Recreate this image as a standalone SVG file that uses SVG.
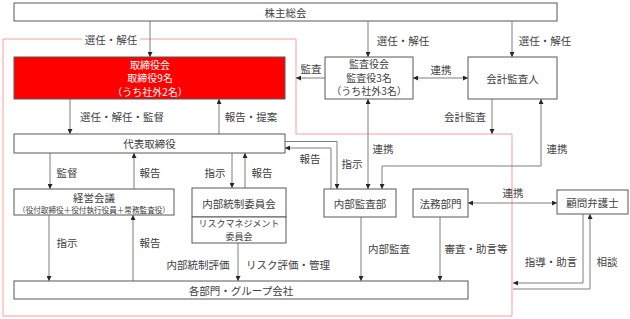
<svg xmlns="http://www.w3.org/2000/svg" width="630" height="319" viewBox="0 0 630 319">
<style>
text{font-family:"Noto Sans CJK JP","Liberation Sans",sans-serif;font-size:10.5px;fill:#404040;text-anchor:middle;dominant-baseline:central}
.box{fill:#fff;stroke:#595959;stroke-width:1}
.ln{fill:none;stroke:#7f7f7f;stroke-width:1}
.wt{fill:#fff;font-size:10px}
.ml{font-size:10px}
.sm{font-size:7.6px}
.rk{font-size:9px}
</style>
<defs>
<marker id="ah" viewBox="0 0 6 6" refX="6" refY="3" markerWidth="5" markerHeight="5" markerUnits="userSpaceOnUse" orient="auto-start-reverse">
<path d="M0,0 L6,3 L0,6 z" fill="#262626"/>
</marker>
</defs>
<g id="boundary">
<path d="M296,39 L296,134 L512,134 L512,316 L3,316 L3,39 Z" fill="none" stroke="#ff9b9b" stroke-width="1"/>
<rect x="82" y="32" width="58" height="14" fill="#fff"/>
<text x="111" y="39">選任・解任</text>
</g>
<g id="connectors">
<path class="ln" d="M150,21 V57" marker-end="url(#ah)"/>
<path class="ln" d="M368,21 V57" marker-end="url(#ah)"/>
<path class="ln" d="M512,21 V57" marker-end="url(#ah)"/>
<path class="ln" d="M413,78 H468" marker-start="url(#ah)" marker-end="url(#ah)"/>
<path class="ln" d="M325,78 H296" marker-end="url(#ah)"/>
<path class="ln" d="M70,99 V134" marker-end="url(#ah)"/>
<path class="ln" d="M219,134 V99" marker-end="url(#ah)"/>
<path class="ln" d="M368,99 V189" marker-start="url(#ah)" marker-end="url(#ah)"/>
<path class="ln" d="M492,99 V134" marker-end="url(#ah)"/>
<path class="ln" d="M541,99 V166 H382 V189" marker-start="url(#ah)" marker-end="url(#ah)"/>
<path class="ln" d="M285,141.5 H337 V189" marker-end="url(#ah)"/>
<path class="ln" d="M331,189 V148 H285" marker-end="url(#ah)"/>
<path class="ln" d="M50,153 V189" marker-end="url(#ah)"/>
<path class="ln" d="M134,189 V153" marker-end="url(#ah)"/>
<path class="ln" d="M232,153 V188" marker-end="url(#ah)"/>
<path class="ln" d="M245,188 V153" marker-end="url(#ah)"/>
<path class="ln" d="M49,215 V281" marker-end="url(#ah)"/>
<path class="ln" d="M133,281 V215" marker-end="url(#ah)"/>
<path class="ln" d="M238,243 V281" marker-end="url(#ah)"/>
<path class="ln" d="M361,217 V281" marker-end="url(#ah)"/>
<path class="ln" d="M440,217 V281" marker-end="url(#ah)"/>
<path class="ln" d="M468,203 H557" marker-start="url(#ah)" marker-end="url(#ah)"/>
<path class="ln" d="M583,214 V283 H513" marker-end="url(#ah)"/>
<path class="ln" d="M513,289 H590 V214" marker-end="url(#ah)"/>
</g>
<g id="labels">
<text x="403" y="40">選任・解任</text>
<text x="545" y="40">選任・解任</text>
<text x="311" y="68">監査</text>
<text x="441" y="69">連携</text>
<text x="122" y="116">選任・解任・監督</text>
<text x="251" y="116">報告・提案</text>
<text x="465" y="116">会計監査</text>
<text x="383" y="148">連携</text>
<text x="557" y="148">連携</text>
<text x="310" y="158">報告</text>
<text x="352" y="163">指示</text>
<text x="67" y="172">監督</text>
<text x="150" y="172">報告</text>
<text x="215" y="172">指示</text>
<text x="262" y="172">報告</text>
<text x="513" y="192">連携</text>
<text x="67" y="242">指示</text>
<text x="150" y="242">報告</text>
<text x="198" y="264">内部統制評価</text>
<text x="288" y="264">リスク評価・管理</text>
<text x="389" y="248">内部監査</text>
<text x="476" y="248">審査・助言等</text>
<text x="551" y="261">指導・助言</text>
<text x="607" y="261">相談</text>
</g>
<g id="shareholders">
<rect class="box" x="14" y="3" width="543" height="18"/>
<text x="285.5" y="12">株主総会</text>
</g>
<g id="board">
<rect x="14" y="57" width="271" height="42" fill="#ff0000" stroke="#595959"/>
<text x="150" y="64" class="wt">取締役会</text>
<text x="150" y="77.5" class="wt">取締役9名</text>
<text x="150" y="91" class="wt">（うち社外2名）</text>
</g>
<g id="auditboard">
<rect class="box" x="325" y="57" width="88" height="42"/>
<text x="369" y="63.5" class="ml">監査役会</text>
<text x="369" y="77" class="ml">監査役3名</text>
<text x="369" y="90.5" class="ml">（うち社外3名）</text>
</g>
<g id="accountant">
<rect class="box" x="468" y="57" width="89" height="42"/>
<text x="512.5" y="78">会計監査人</text>
</g>
<g id="president">
<rect class="box" x="14" y="134" width="271" height="19"/>
<text x="149.5" y="143">代表取締役</text>
</g>
<g id="mgmt">
<rect class="box" x="14" y="189" width="160" height="26"/>
<text x="94" y="197">経営会議</text>
<text x="94" y="209.5" class="sm">（役付取締役＋役付執行役員＋常務監査役）</text>
</g>
<g id="internalcontrol">
<rect class="box" x="192" y="188" width="94" height="29"/>
<text x="239" y="203">内部統制委員会</text>
</g>
<g id="riskmgmt">
<rect class="box" x="192" y="217" width="94" height="26"/>
<text x="239" y="223" class="rk">リスクマネジメント</text>
<text x="239" y="236" class="rk">委員会</text>
</g>
<g id="internalaudit">
<rect class="box" x="324" y="189" width="72" height="28"/>
<text x="360" y="203">内部監査部</text>
</g>
<g id="legal">
<rect class="box" x="413" y="189" width="55" height="28"/>
<text x="440.5" y="203">法務部門</text>
</g>
<g id="lawyer">
<rect class="box" x="557" y="190" width="71" height="24"/>
<text x="592.5" y="202">顧問弁護士</text>
</g>
<g id="departments">
<rect class="box" x="14" y="281" width="454" height="18"/>
<text x="241" y="290">各部門・グループ会社</text>
</g>
</svg>
